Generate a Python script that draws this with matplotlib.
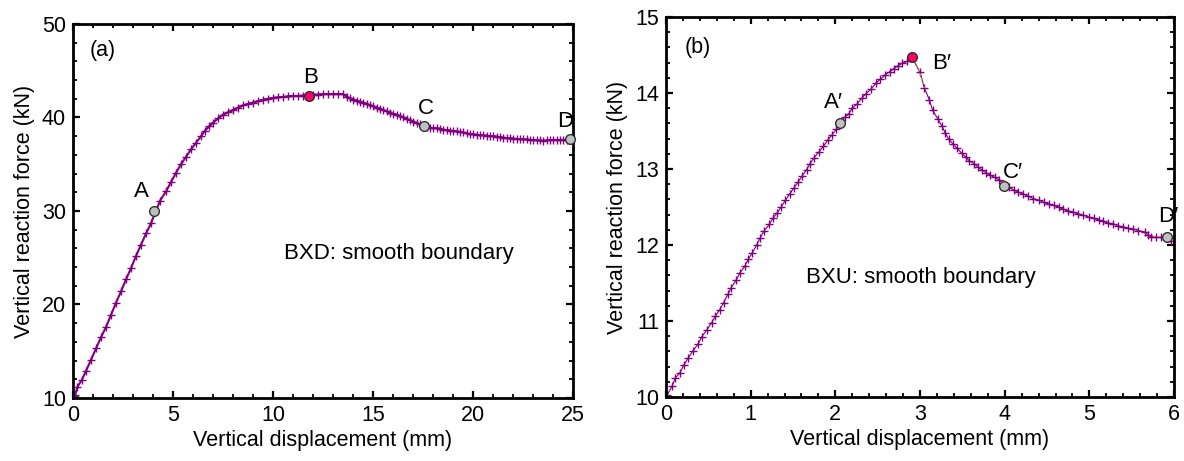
import numpy as np
import matplotlib.pyplot as plt
from matplotlib.ticker import MultipleLocator

plt.rcParams['font.family'] = ['Liberation Sans', 'DejaVu Sans']

# (a) BXD: displacement (mm) and reaction force (kN)
bxd_disp = [0.0, 0.02, 0.05, 0.1, 0.22, 0.43, 0.65, 0.9, 1.15, 1.4, 1.65, 1.9, 2.15, 2.4,
            2.65, 2.9, 3.15, 3.4, 3.65, 3.9, 4.35, 4.65, 4.9, 5.15, 5.4, 5.65, 5.9, 6.15,
            6.4, 6.6, 6.8, 7.0, 7.25, 7.5, 7.75, 8.0, 8.25, 8.5, 8.75, 9.0, 9.25, 9.5,
            9.75, 10.0, 10.25, 10.5, 10.75, 11.0, 11.25, 11.5, 11.75, 12.0, 12.25, 12.5,
            12.75, 13.0, 13.25, 13.5, 13.7, 13.85, 14.0, 14.2, 14.35, 14.5, 14.7, 14.85,
            15.0, 15.2, 15.35, 15.5, 15.7, 15.85, 16.0, 16.2, 16.35, 16.5, 16.7, 16.85,
            17.0, 17.2, 17.35, 17.55, 17.7, 17.85, 18.0, 18.2, 18.35, 18.5, 18.7, 18.85,
            19.0, 19.2, 19.35, 19.5, 19.7, 19.85, 20.0, 20.2, 20.35, 20.5, 20.7, 20.85,
            21.0, 21.2, 21.35, 21.5, 21.7, 21.85, 22.0, 22.2, 22.35, 22.5, 22.7, 22.85,
            23.0, 23.2, 23.35, 23.5, 23.7, 23.85, 24.0, 24.2, 24.35, 24.5, 24.7, 24.85]
bxd_force = [10.0, 10.05, 10.2, 10.3, 11.2, 11.9, 12.9, 14.1, 15.3, 16.5, 17.6, 18.9, 20.2, 21.4,
             22.7, 23.9, 25.2, 26.4, 27.6, 28.7, 31.1, 32.1, 33.1, 34.1, 35.0, 35.8, 36.6, 37.3,
             38.0, 38.6, 39.05, 39.45, 39.9, 40.3, 40.55, 40.8, 41.05, 41.3, 41.45, 41.6, 41.75, 41.9,
             42.0, 42.1, 42.15, 42.2, 42.25, 42.3, 42.3, 42.35, 42.4, 42.45, 42.45, 42.5,
             42.5, 42.5, 42.5, 42.5, 42.2, 42.05, 41.9, 41.8, 41.7, 41.6, 41.45, 41.3,
             41.2, 41.05, 40.95, 40.8, 40.65, 40.5, 40.4, 40.3, 40.15, 40.0, 39.85, 39.7,
             39.55, 39.4, 39.25, 39.1, 39.0, 38.9, 38.85, 38.85, 38.8, 38.7, 38.65, 38.6,
             38.55, 38.5, 38.45, 38.4, 38.3, 38.2, 38.2, 38.15, 38.1, 38.1, 38.05, 38.0,
             38.0, 37.95, 37.9, 37.85, 37.8, 37.8, 37.75, 37.7, 37.7, 37.65, 37.65, 37.6,
             37.6, 37.55, 37.55, 37.5, 37.55, 37.6, 37.6, 37.6, 37.6, 37.6, 37.6, 37.65]

# (b) BXU
bxu_disp = [0.0, 0.015, 0.07, 0.11, 0.165, 0.21, 0.26, 0.32, 0.38, 0.42, 0.48, 0.54, 0.58,
            0.635, 0.68, 0.73, 0.77, 0.83, 0.87, 0.93, 0.97, 1.02, 1.07, 1.11, 1.16, 1.22,
            1.26, 1.31, 1.36, 1.41, 1.46, 1.51, 1.56, 1.61, 1.66, 1.70, 1.75, 1.81, 1.86,
            1.91, 1.96, 2.01, 2.06, 2.11, 2.16, 2.20, 2.26, 2.31, 2.36, 2.42, 2.48, 2.53,
            2.59, 2.64, 2.69, 2.74, 2.79, 2.85, 2.91, 3.0, 3.05, 3.11, 3.15, 3.21, 3.26,
            3.30, 3.34, 3.39, 3.44, 3.49, 3.54, 3.58, 3.64, 3.69, 3.73, 3.78, 3.83, 3.88,
            3.93, 3.99, 4.05, 4.11, 4.16, 4.22, 4.28, 4.34, 4.40, 4.46, 4.52, 4.58, 4.64,
            4.69, 4.75, 4.81, 4.87, 4.93, 4.99, 5.05, 5.11, 5.16, 5.22, 5.28, 5.34, 5.40,
            5.46, 5.52, 5.58, 5.66, 5.69, 5.73, 5.79, 5.85, 5.92, 5.96]
bxu_force = [10.0, 10.03, 10.14, 10.25, 10.32, 10.42, 10.51, 10.61, 10.70, 10.79, 10.88, 10.98, 11.06,
             11.15, 11.24, 11.35, 11.44, 11.54, 11.63, 11.72, 11.81, 11.90, 12.0, 12.09, 12.19, 12.27,
             12.35, 12.42, 12.50, 12.59, 12.67, 12.75, 12.83, 12.91, 12.99, 13.07, 13.15, 13.23, 13.30,
             13.38, 13.45, 13.52, 13.61, 13.68, 13.73, 13.80, 13.86, 13.93, 13.99, 14.05, 14.13, 14.18,
             14.24, 14.28, 14.32, 14.36, 14.39, 14.42, 14.46, 14.27, 14.07, 13.91, 13.77, 13.66, 13.56,
             13.47, 13.39, 13.33, 13.27, 13.21, 13.16, 13.11, 13.07, 13.02, 12.99, 12.95, 12.92, 12.89,
             12.86, 12.80, 12.76, 12.72, 12.70, 12.67, 12.64, 12.61, 12.59, 12.56, 12.54, 12.52, 12.50,
             12.47, 12.45, 12.43, 12.41, 12.39, 12.37, 12.35, 12.33, 12.31, 12.29, 12.28, 12.25, 12.24,
             12.22, 12.21, 12.19, 12.17, 12.13, 12.11, 12.10, 12.10, 12.11, 12.05]

# marked states
bxd_pts_x = [4.07, 11.78, 17.55, 24.85]
bxd_pts_y = [30.0, 42.35, 39.1, 37.65]
bxd_names = ['A', 'B', 'C', 'D']
bxd_name_xy = [(3.4, 32.1), (11.9, 44.3), (17.65, 41.0), (24.6, 39.6)]

bxu_pts_x = [2.06, 2.91, 3.99, 5.92]
bxu_pts_y = [13.61, 14.47, 12.78, 12.11]
bxu_names = ["A\u2032", "B\u2032", "C\u2032", "D\u2032"]
bxu_name_xy = [(1.98, 13.87), (3.25, 14.39), (4.1, 12.95), (5.93, 12.38)]

purple = '#800080'
fs = 15.5

fig = plt.figure(figsize=(11.84, 4.61), dpi=100)
ax1 = fig.add_axes([0.0617, 0.1367, 0.4223, 0.8113])
ax2 = fig.add_axes([0.5625, 0.1388, 0.4291, 0.8243])


def style_axis(ax, xmaj, xmin, ymaj, ymin):
    ax.xaxis.set_major_locator(MultipleLocator(xmaj))
    ax.xaxis.set_minor_locator(MultipleLocator(xmin))
    ax.yaxis.set_major_locator(MultipleLocator(ymaj))
    ax.yaxis.set_minor_locator(MultipleLocator(ymin))
    ax.tick_params(which='both', direction='in', top=True, right=True, labelsize=fs, pad=5)
    ax.tick_params(which='major', length=5, width=1.6)
    ax.tick_params(which='minor', length=3, width=1.3)
    for sp in ax.spines.values():
        sp.set_linewidth(2)
    ax.set_xlabel('Vertical displacement (mm)', fontsize=fs, labelpad=3)
    ax.set_ylabel('Vertical reaction force (kN)', fontsize=fs, labelpad=5)


def draw_points(ax, xs, ys, names, name_xy):
    for i in range(len(xs)):
        face = '#ff0066' if i == 1 else '#c0c0c0'
        ax.plot(xs[i], ys[i], 'o', ms=7, mfc=face, mec='#303030', mew=1, zorder=5, clip_on=False)
        ax.text(name_xy[i][0], name_xy[i][1], names[i], fontsize=fs + 0.5, ha='center', va='center')


# (a) markers everywhere, connecting line visible from the knee on
ax1.plot(bxd_disp, bxd_force, 'None', color=purple, marker='+', ms=6, mew=1.0)
ax1.plot(bxd_disp[29:], bxd_force[29:], '-', color=purple, lw=1.1)
draw_points(ax1, bxd_pts_x, bxd_pts_y, bxd_names, bxd_name_xy)
ax1.text(1.5, 47.2, '(a)', fontsize=fs, ha='center', va='center')
ax1.text(10.55, 25.5, 'BXD: smooth boundary', fontsize=fs + 0.5, ha='left', va='center')
ax1.set_xlim(0, 25)
ax1.set_ylim(10, 50)
style_axis(ax1, 5, 1, 10, 2)

# (b)
ax2.plot(bxu_disp, bxu_force, '-', color=purple, lw=0.8, marker='+', ms=6, mew=1.0)
ax2.plot(bxu_disp[58:61], bxu_force[58:61], ':', color='#b0b040', lw=1.2, zorder=3)
draw_points(ax2, bxu_pts_x, bxu_pts_y, bxu_names, bxu_name_xy)
ax2.text(0.37, 14.6, '(b)', fontsize=fs, ha='center', va='center')
ax2.text(1.65, 11.57, 'BXU: smooth boundary', fontsize=fs + 0.5, ha='left', va='center')
ax2.set_xlim(0, 6)
ax2.set_ylim(10, 15)
style_axis(ax2, 1, 0.2, 1, 0.2)

fig.savefig('out.png', dpi=100)
